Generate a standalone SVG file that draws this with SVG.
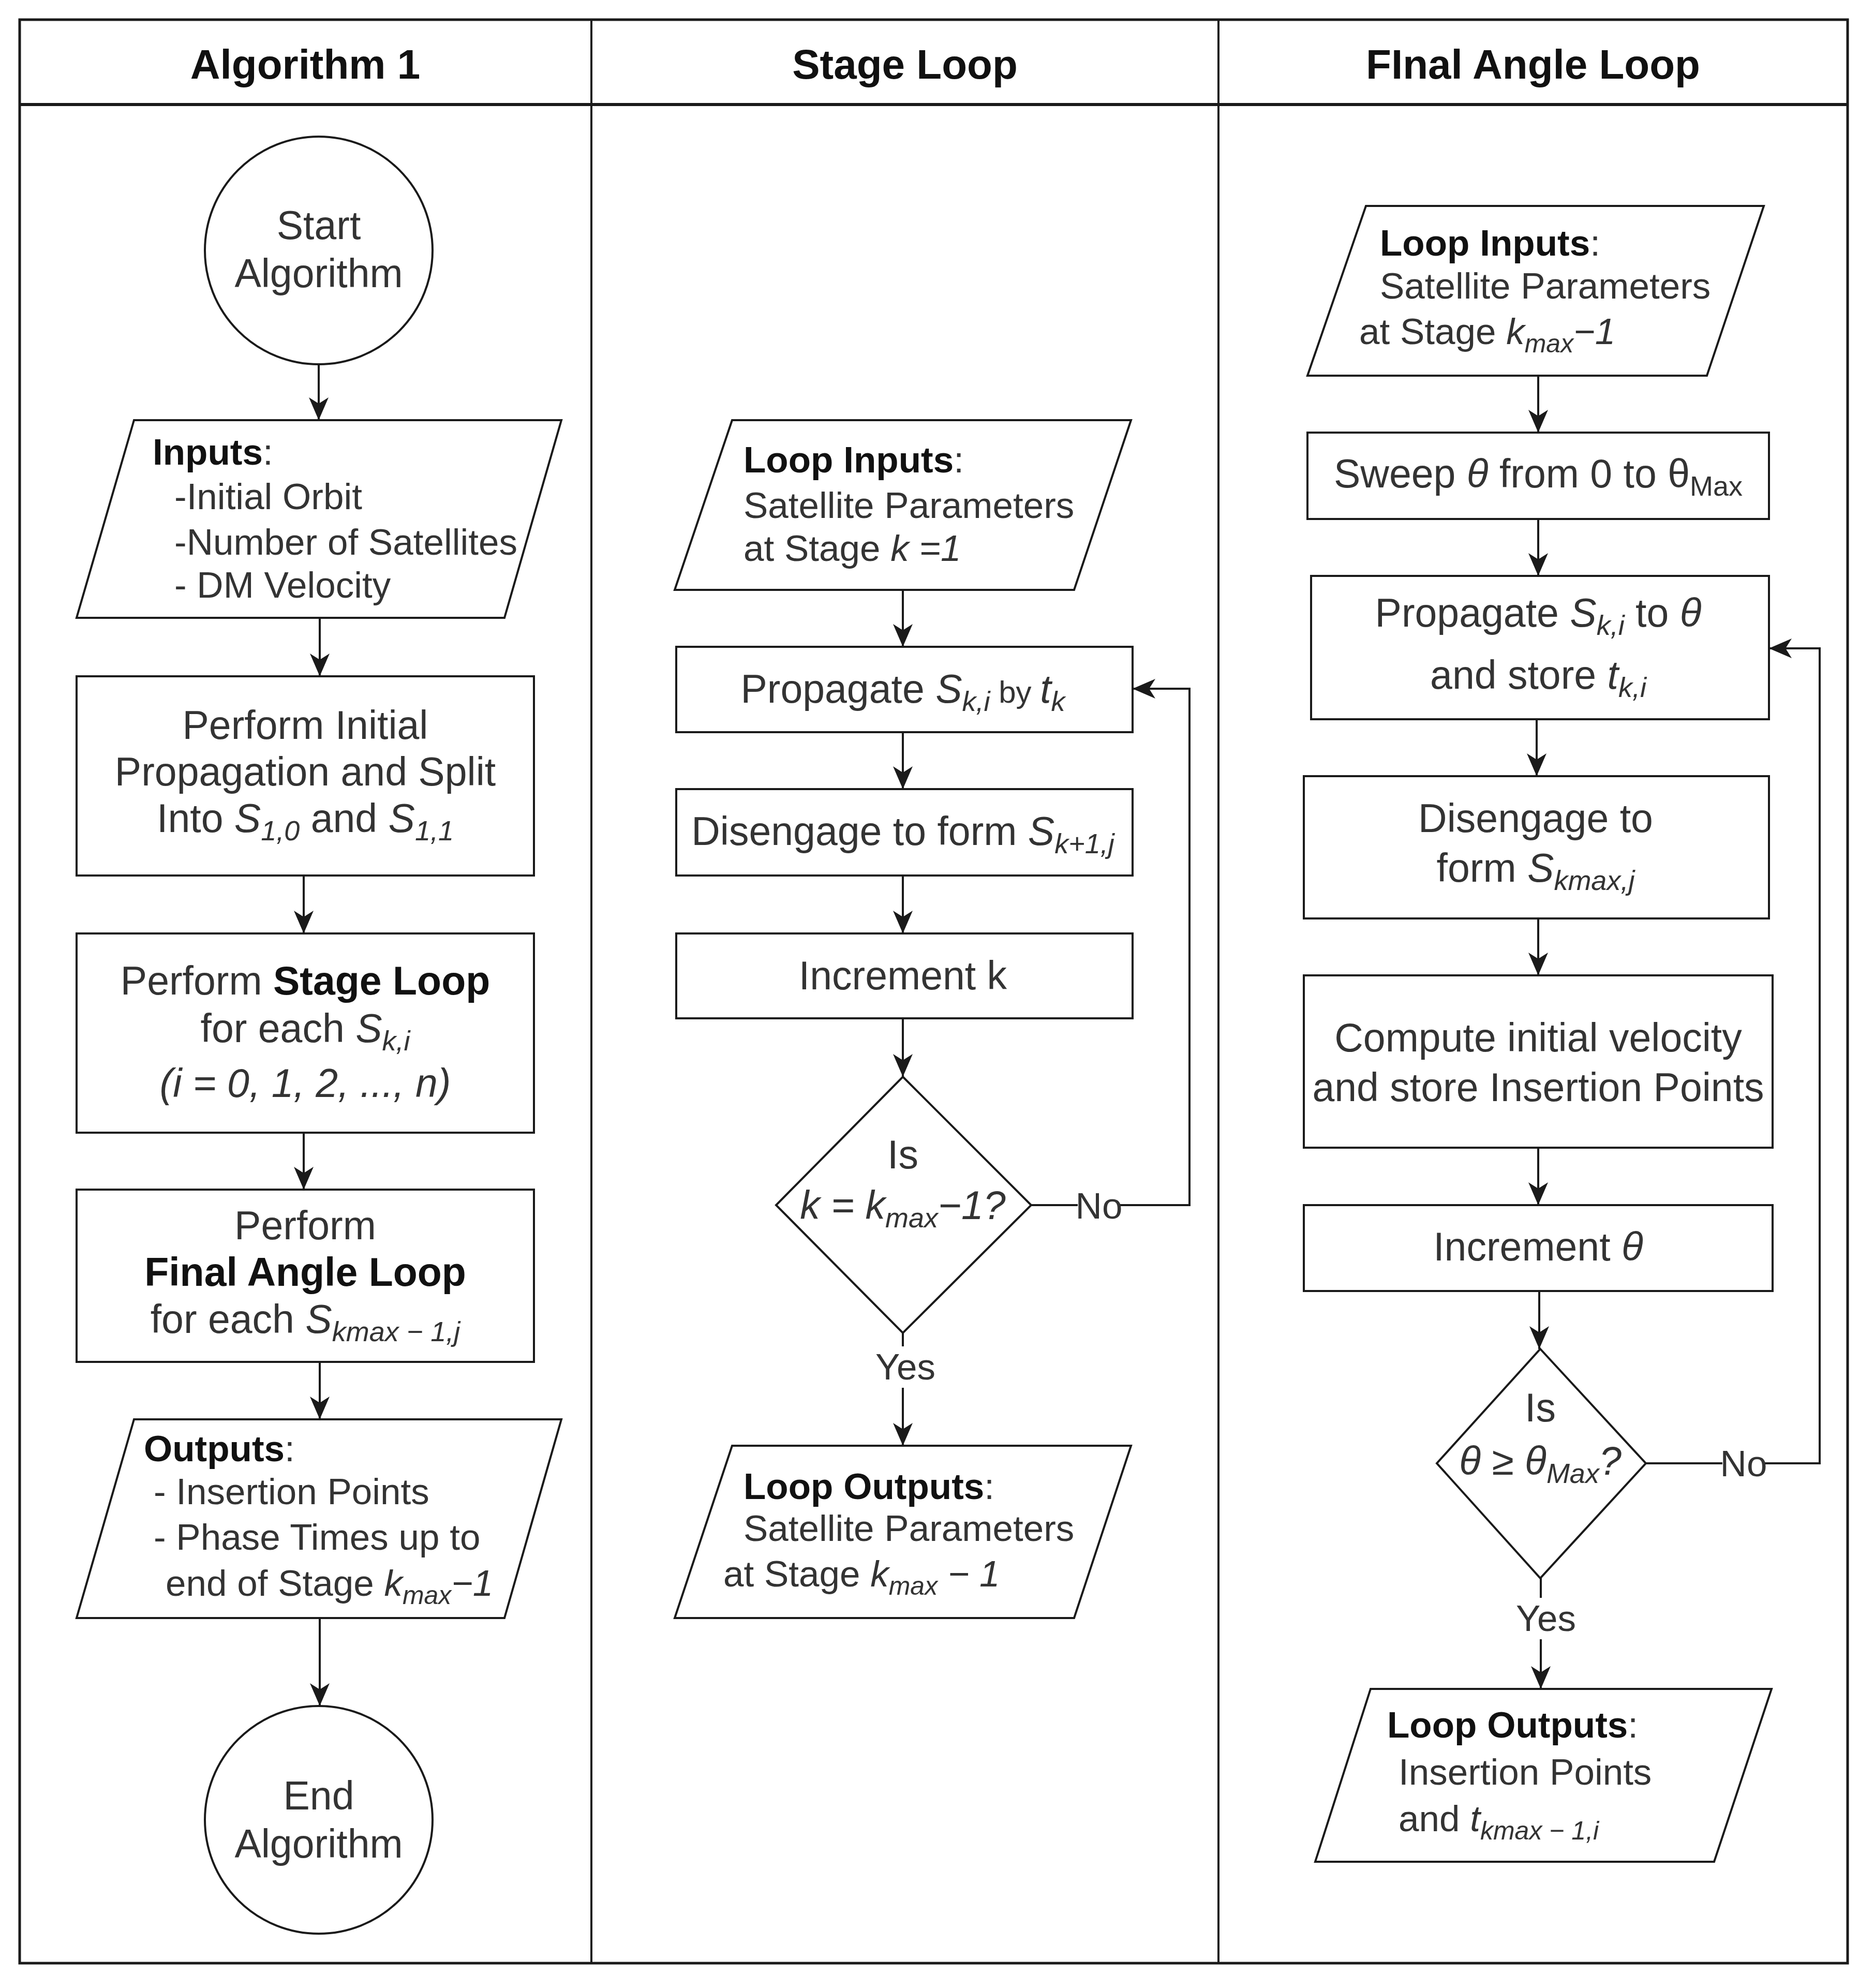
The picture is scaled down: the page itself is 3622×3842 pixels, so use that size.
<svg xmlns="http://www.w3.org/2000/svg" width="3622" height="3842" viewBox="0 0 3622 3842">
<style>
.s{fill:#fff;stroke:#1a1a1a;stroke-width:4}
.c{fill:none;stroke:#1a1a1a;stroke-width:4}
.t{font-family:"Liberation Sans",Arial,sans-serif;font-size:77px;fill:#333}
.p{font-size:71px}
.m{text-anchor:middle}
.h{font-family:"Liberation Sans",Arial,sans-serif;font-weight:bold;font-size:80px;fill:#111;text-anchor:middle}
.b{font-weight:bold;fill:#111}
.i{font-style:italic}
.sb{font-size:54px;font-style:italic}
.sp{font-size:50px;font-style:italic}
.lb{fill:#fff;stroke:none}
</style>
<defs>
<marker id="ar" viewBox="-46 -21 48 42" refX="0" refY="0" markerWidth="48" markerHeight="42" markerUnits="userSpaceOnUse" orient="auto">
<path d="M0,0 L-44,-19 L-32,0 L-44,19 Z" fill="#1a1a1a"/>
</marker>
</defs>
<rect x="0" y="0" width="3622" height="3842" fill="#fff"/>
<g id="frame">
<rect x="38" y="38" width="3533" height="3756" fill="none" stroke="#1a1a1a" stroke-width="5"/>
<line x1="38" y1="202" x2="3571" y2="202" stroke="#1a1a1a" stroke-width="6"/>
<line x1="1143" y1="38" x2="1143" y2="3794" stroke="#1a1a1a" stroke-width="4"/>
<line x1="2355" y1="38" x2="2355" y2="3794" stroke="#1a1a1a" stroke-width="4"/>
<text class="h" x="590" y="152">Algorithm 1</text>
<text class="h" x="1749" y="152">Stage Loop</text>
<text class="h" x="2963" y="152">FInal Angle Loop</text>
</g>
<g id="connectors">
<path class="c" d="M616,704 V812" marker-end="url(#ar)"/>
<path class="c" d="M618,1194 V1307" marker-end="url(#ar)"/>
<path class="c" d="M587,1692 V1804" marker-end="url(#ar)"/>
<path class="c" d="M587,2189 V2299" marker-end="url(#ar)"/>
<path class="c" d="M618,2632 V2743" marker-end="url(#ar)"/>
<path class="c" d="M618,3127 V3297" marker-end="url(#ar)"/>
<path class="c" d="M1745,1140 V1250" marker-end="url(#ar)"/>
<path class="c" d="M1745,1415 V1525" marker-end="url(#ar)"/>
<path class="c" d="M1745,1692 V1804" marker-end="url(#ar)"/>
<path class="c" d="M1745,1968 V2081" marker-end="url(#ar)"/>
<path class="c" d="M1745,2576 V2794" marker-end="url(#ar)"/>
<path class="c" d="M1993,2329 H2299 V1331 H2189" marker-end="url(#ar)"/>
<path class="c" d="M2973,726 V836" marker-end="url(#ar)"/>
<path class="c" d="M2973,1003 V1113" marker-end="url(#ar)"/>
<path class="c" d="M2970,1390 V1500" marker-end="url(#ar)"/>
<path class="c" d="M2973,1775 V1885" marker-end="url(#ar)"/>
<path class="c" d="M2973,2218 V2329" marker-end="url(#ar)"/>
<path class="c" d="M2975,2495 V2607" marker-end="url(#ar)"/>
<path class="c" d="M2978,3050 V3264" marker-end="url(#ar)"/>
<path class="c" d="M3181,2828 H3517 V1253 H3419" marker-end="url(#ar)"/>
<rect class="lb" x="2083" y="2292" width="82" height="76"/>
<text class="t p m" x="2124" y="2355">No</text>
<rect class="lb" x="1692" y="2602" width="116" height="80"/>
<text class="t p m" x="1750" y="2666">Yes</text>
<rect class="lb" x="3329" y="2790" width="82" height="76"/>
<text class="t p m" x="3370" y="2853">No</text>
<rect class="lb" x="2930" y="3088" width="116" height="80"/>
<text class="t p m" x="2988" y="3152">Yes</text>
</g>
<g id="start">
<circle class="s" cx="616" cy="484" r="220"/>
<text class="t m" x="616" y="462">Start</text>
<text class="t m" x="616" y="555">Algorithm</text>
</g>
<g id="inputs">
<polygon class="s" points="259,812 1085,812 975,1194 148,1194"/>
<text class="t p" x="295" y="898"><tspan class="b">Inputs</tspan>:</text>
<text class="t p" x="337" y="984">-Initial Orbit</text>
<text class="t p" x="337" y="1072">-Number of Satellites</text>
<text class="t p" x="337" y="1155">- DM Velocity</text>
</g>
<g id="initial-propagation">
<rect class="s" x="148" y="1307" width="884" height="385"/>
<text class="t m" x="590" y="1428">Perform Initial</text>
<text class="t m" x="590" y="1518">Propagation and Split</text>
<text class="t m" x="590" y="1608">Into <tspan class="i">S</tspan><tspan class="sb" dy="16">1,0</tspan><tspan dy="-16"> and </tspan><tspan class="i">S</tspan><tspan class="sb" dy="16">1,1</tspan></text>
</g>
<g id="perform-stage-loop">
<rect class="s" x="148" y="1804" width="884" height="385"/>
<text class="t m" x="590" y="1922">Perform <tspan class="b">Stage Loop</tspan></text>
<text class="t m" x="590" y="2014">for each <tspan class="i">S</tspan><tspan class="sb" dy="16">k,i</tspan></text>
<text class="t m i" x="590" y="2120">(i = 0, 1, 2, ..., n)</text>
</g>
<g id="perform-final-angle-loop">
<rect class="s" x="148" y="2299" width="884" height="333"/>
<text class="t m" x="590" y="2395">Perform</text>
<text class="t m b" x="590" y="2485">Final Angle Loop</text>
<text class="t m" x="590" y="2576">for each <tspan class="i">S</tspan><tspan class="sb" dy="16">kmax − 1,j</tspan></text>
</g>
<g id="outputs">
<polygon class="s" points="259,2743 1085,2743 975,3127 148,3127"/>
<text class="t p" x="278" y="2824"><tspan class="b">Outputs</tspan>:</text>
<text class="t p" x="297" y="2907">- Insertion Points</text>
<text class="t p" x="297" y="2995">- Phase Times up to</text>
<text class="t p" x="320" y="3084">end of Stage <tspan class="i">k</tspan><tspan class="sp" dy="16">max</tspan><tspan class="i" dy="-16">−1</tspan></text>
</g>
<g id="end">
<circle class="s" cx="616" cy="3517" r="220"/>
<text class="t m" x="616" y="3497">End</text>
<text class="t m" x="616" y="3590">Algorithm</text>
</g>
<g id="stage-loop-inputs">
<polygon class="s" points="1415,812 2186,812 2076,1140 1304,1140"/>
<text class="t p" x="1437" y="913"><tspan class="b">Loop Inputs</tspan>:</text>
<text class="t p" x="1437" y="1001">Satellite Parameters</text>
<text class="t p" x="1437" y="1084">at Stage <tspan class="i">k =1</tspan></text>
</g>
<g id="propagate-stage">
<rect class="s" x="1307" y="1250" width="882" height="165"/>
<text class="t m" x="1745" y="1358">Propagate <tspan class="i">S</tspan><tspan class="sb" dy="16">k,i</tspan><tspan dy="-16" font-size="60"> by </tspan><tspan class="i">t</tspan><tspan class="sb" dy="16">k</tspan></text>
</g>
<g id="disengage-stage">
<rect class="s" x="1307" y="1525" width="882" height="167"/>
<text class="t m" x="1745" y="1633">Disengage to form <tspan class="i">S</tspan><tspan class="sb" dy="16">k+1,j</tspan></text>
</g>
<g id="increment-k">
<rect class="s" x="1307" y="1804" width="882" height="164"/>
<text class="t m" x="1745" y="1912">Increment k</text>
</g>
<g id="decision-k">
<polygon class="s" points="1745,2081 1993,2329 1745,2576 1500,2329"/>
<text class="t m" x="1745" y="2258">Is</text>
<text class="t m i" x="1745" y="2356">k = k<tspan class="sb" dy="16">max</tspan><tspan dy="-16">−1?</tspan></text>
</g>
<g id="stage-loop-outputs">
<polygon class="s" points="1415,2794 2186,2794 2076,3127 1304,3127"/>
<text class="t p" x="1437" y="2897"><tspan class="b">Loop Outputs</tspan>:</text>
<text class="t p" x="1437" y="2978">Satellite Parameters</text>
<text class="t p" x="1398" y="3066">at Stage <tspan class="i">k</tspan><tspan class="sp" dy="16">max</tspan><tspan class="i" dy="-16"> − 1</tspan></text>
</g>
<g id="final-loop-inputs">
<polygon class="s" points="2640,398 3409,398 3299,726 2527,726"/>
<text class="t p" x="2667" y="494"><tspan class="b">Loop Inputs</tspan>:</text>
<text class="t p" x="2667" y="577">Satellite Parameters</text>
<text class="t p" x="2627" y="665">at Stage <tspan class="i">k</tspan><tspan class="sp" dy="16">max</tspan><tspan class="i" dy="-16">−1</tspan></text>
</g>
<g id="sweep-theta">
<rect class="s" x="2527" y="836" width="892" height="167"/>
<text class="t m" x="2973" y="942">Sweep <tspan class="i">θ</tspan> from 0 to θ<tspan font-size="54" dy="16">Max</tspan></text>
</g>
<g id="propagate-theta">
<rect class="s" x="2534" y="1113" width="885" height="277"/>
<text class="t m" x="2973" y="1211">Propagate <tspan class="i">S</tspan><tspan class="sb" dy="16">k,i</tspan><tspan dy="-16"> to </tspan><tspan class="i">θ</tspan></text>
<text class="t m" x="2973" y="1331">and store <tspan class="i">t</tspan><tspan class="sb" dy="16">k,i</tspan></text>
</g>
<g id="disengage-final">
<rect class="s" x="2520" y="1500" width="899" height="275"/>
<text class="t m" x="2968" y="1608">Disengage to</text>
<text class="t m" x="2968" y="1704">form <tspan class="i">S</tspan><tspan class="sb" dy="16">kmax,j</tspan></text>
</g>
<g id="compute-velocity">
<rect class="s" x="2520" y="1885" width="906" height="333"/>
<text class="t m" x="2973" y="2032">Compute initial velocity</text>
<text class="t m" x="2973" y="2128">and store Insertion Points</text>
</g>
<g id="increment-theta">
<rect class="s" x="2520" y="2329" width="906" height="166"/>
<text class="t m" x="2973" y="2436">Increment <tspan class="i">θ</tspan></text>
</g>
<g id="decision-theta">
<polygon class="s" points="2977,2607 3181,2828 2977,3050 2777,2828"/>
<text class="t m" x="2977" y="2747">Is</text>
<text class="t m i" x="2977" y="2850">θ ≥ θ<tspan class="sb" dy="16">Max</tspan><tspan dy="-16">?</tspan></text>
</g>
<g id="final-loop-outputs">
<polygon class="s" points="2649,3264 3424,3264 3313,3598 2542,3598"/>
<text class="t p" x="2681" y="3358"><tspan class="b">Loop Outputs</tspan>:</text>
<text class="t p" x="2703" y="3449">Insertion Points</text>
<text class="t p" x="2703" y="3539">and <tspan class="i">t</tspan><tspan class="sp" dy="16">kmax − 1,i</tspan></text>
</g>
</svg>
